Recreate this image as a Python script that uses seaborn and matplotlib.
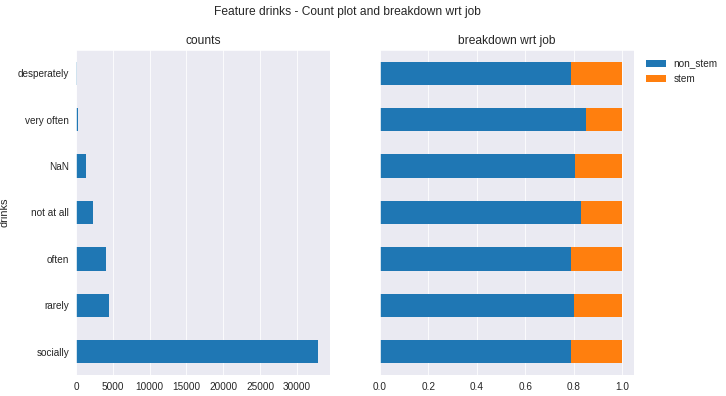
import numpy as np
import pandas as pd
import matplotlib.pyplot as plt
import seaborn as sns

# values
categories = ['desperately', 'very often', 'NaN', 'not at all', 'often', 'rarely', 'socially']
counts = [140, 270, 1360, 2320, 4090, 4460, 32860]
non_stem = [0.788, 0.850, 0.805, 0.830, 0.788, 0.800, 0.788]
stem = [1 - v for v in non_stem]

sns.set_style('darkgrid')
plt.rcParams['font.family'] = ['Liberation Sans', 'DejaVu Sans']
plt.rcParams['text.color'] = '.15'
plt.rcParams['axes.labelcolor'] = '.15'
plt.rcParams['xtick.color'] = '.15'
plt.rcParams['ytick.color'] = '.15'

blue = '#1f77b4'
orange = '#ff7f0e'

df = pd.DataFrame({'drinks': categories, 'count': counts,
                   'non_stem': non_stem, 'stem': stem})
df['total'] = df['non_stem'] + df['stem']

fig = plt.figure(figsize=(726 / 72, 396 / 72), dpi=72)
ax1 = fig.add_axes([76 / 726, 21 / 396, 254 / 726, 325 / 396])
ax2 = fig.add_axes([380 / 726, 21 / 396, 254 / 726, 325 / 396])

sns.barplot(data=df, x='count', y='drinks', order=categories, color=blue,
            saturation=1, width=0.5, linewidth=0, ax=ax1)
ax1.set_title('counts', fontsize=12)
ax1.set_xlabel('')
ax1.set_ylabel('drinks', fontsize=11, labelpad=8)
ax1.tick_params(labelsize=10)
ax1.set_xlim(0, max(counts) * 1.05)
ax1.set_xticks(np.arange(0, 30001, 5000))

sns.barplot(data=df, x='total', y='drinks', order=categories, color=orange,
            saturation=1, width=0.5, linewidth=0, ax=ax2, label='stem')
sns.barplot(data=df, x='non_stem', y='drinks', order=categories, color=blue,
            saturation=1, width=0.5, linewidth=0, ax=ax2, label='non_stem')
ax2.set_title('breakdown wrt job', fontsize=12)
ax2.set_xlabel('')
ax2.set_ylabel('')
ax2.set_yticklabels([])
ax2.tick_params(labelsize=10)
ax2.set_xlim(0, 1.05)
h, l = ax2.get_legend_handles_labels()
ax2.legend(h[::-1], l[::-1], loc='upper left', bbox_to_anchor=(1.01, 1.0),
           frameon=False, fontsize=10)

fig.suptitle('Feature drinks - Count plot and breakdown wrt job', fontsize=12,
             x=0.478, y=0.985)

fig.savefig('out.png', dpi=72)
